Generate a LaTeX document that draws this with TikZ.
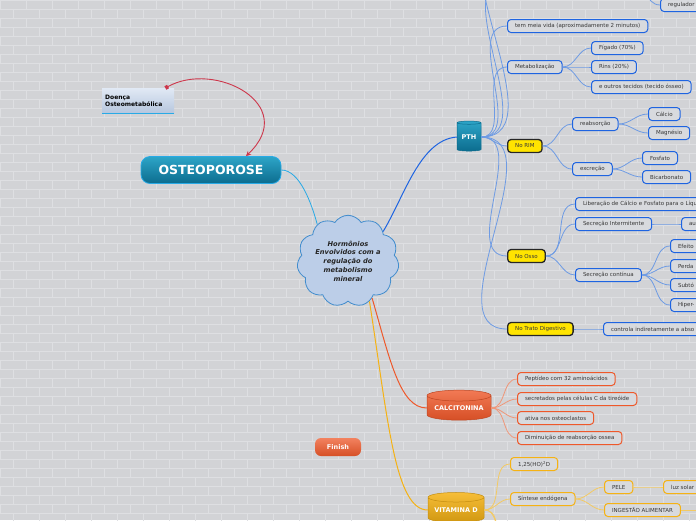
\documentclass[tikz,border=0pt]{standalone}
\usepackage{fontspec}
\setmainfont{DejaVu Sans}
\usepackage{tikz}
\usetikzlibrary{shapes.geometric,shapes.symbols,arrows.meta,positioning}
\usepackage{xcolor}
\definecolor{BgGray}{RGB}{210,211,214}
\definecolor{BrickLine}{RGB}{222,223,226}
\definecolor{BoxFill}{RGB}{216,218,222}
\definecolor{PTHBlue}{RGB}{30,100,225}
\definecolor{PTHLink}{RGB}{110,155,228}
\definecolor{CalcRed}{RGB}{238,88,42}
\definecolor{CalcLink}{RGB}{240,150,120}
\definecolor{VitGold}{RGB}{245,178,20}
\definecolor{VitLink}{RGB}{243,202,100}
\definecolor{NoteYellow}{RGB}{255,228,0}
\definecolor{TealTop}{RGB}{45,165,200}
\definecolor{TealBot}{RGB}{12,108,142}
\definecolor{CloudFill}{RGB}{188,206,232}
\definecolor{CloudLine}{RGB}{65,140,205}
\definecolor{ArrowRed}{RGB}{205,55,75}
\definecolor{SkyLine}{RGB}{40,170,230}
\definecolor{TextGray}{RGB}{55,55,55}

\tikzset{
  leaf/.style={draw=#1, line width=1pt, fill=BoxFill, rounded corners=3.5pt,
    anchor=west, font=\fontsize{5.5}{6.5}\selectfont, text=TextGray,
    minimum height=13pt, inner xsep=7.5pt, inner ysep=0pt},
  leaf/.default=PTHBlue,
  yellowbox/.style={leaf=black!85, fill=NoteYellow, line width=1.3pt},
  cutoff/.style={text width=#1, align=left},
  drum/.style={cylinder, shape border rotate=90, aspect=0.22, draw=#1,
    line width=0.5pt, inner sep=0pt, text=white,
    font=\bfseries\fontsize{6.5}{7}\selectfont},
  link/.style={draw=#1, line width=0.8pt},
}

\begin{document}
\begin{tikzpicture}[x=1pt,y=-1pt]
  \useasboundingbox (0,0) rectangle (696,520);
  \clip (0,0) rectangle (696,520);
  % brick wall
  \fill[BgGray] (0,0) rectangle (696,520);
  \foreach \r in {0,...,58}
    \draw[BrickLine, line width=0.6pt] (0,\r*9) -- (696,\r*9);
  \foreach \r [evaluate=\r as \off using {mod(\r,2)*13}] in {0,...,57}
    \foreach \c in {-1,...,27}
      \draw[BrickLine, line width=0.6pt] (\c*26+\off,\r*9) -- ++(0,9);

  % central idea
  \node[cloud, cloud puffs=11, cloud puff arc=115, aspect=1.15, draw=CloudLine,
        fill=CloudFill, line width=0.8pt, minimum width=102pt, minimum height=90pt,
        align=center, text=black!85, inner sep=0pt,
        font=\bfseries\itshape\fontsize{6.7}{8.7}\selectfont]
    (hub) at (348,261) {Hormônios\\Envolvidos com a\\regulação do\\metabolismo\\mineral};

  % left side
  \node[rounded corners=9pt, top color=TealTop, bottom color=TealBot, draw=SkyLine,
        line width=0.8pt, minimum width=140pt, minimum height=27pt, text=white,
        font=\bfseries\fontsize{12.5}{14}\selectfont]
    (osteo) at (211,170) {OSTEOPOROSE};
  \node[anchor=north west, top color=CloudFill!45, bottom color=CloudFill!90!gray,
        minimum width=72pt, minimum height=25pt, inner xsep=3pt, align=left,
        text width=66pt, font=\bfseries\fontsize{6}{7.5}\selectfont]
    (doenca) at (102,88) {Doença\\Osteometabólica};
  \draw[SkyLine, line width=1pt] (doenca.south west) -- (doenca.south east);
  \draw[ArrowRed, line width=0.9pt, {Square[length=3pt,width=4pt]}-{Stealth[length=5pt,width=5pt]}]
    ([xshift=-9pt]doenca.north east) .. controls (215,60) and (300,105)
    .. ([xshift=35pt]osteo.north);
  \node[rounded corners=6pt, top color=CalcRed!75, bottom color=CalcRed!90!black,
        minimum width=46pt, minimum height=18pt, text=white,
        font=\bfseries\fontsize{6.5}{7}\selectfont]
    (finish) at (338,447) {Finish};

  % main topics
  \node[drum=TealBot, top color=TealTop, bottom color=TealBot,
        minimum width=24pt, minimum height=30pt] (pth) at (469,137) {PTH};
  \node[drum=CalcRed!80!black, top color=CalcRed!80, bottom color=CalcRed!90!black,
        minimum width=64pt, minimum height=30pt] (calc) at (459,408) {CALCITONINA};
  \node[drum=VitGold!80!black, top color=VitGold!85, bottom color=VitGold!85!black,
        minimum width=56pt, minimum height=30pt] (vitd) at (456,510) {VITAMINA D};

  \draw[link=SkyLine] (osteo.east) .. controls (300,170) and (312,205) .. (hub.130);
  \draw[link=PTHBlue, line width=1pt] (hub.40) .. controls (405,195) and (420,140) .. (pth.west);
  \draw[link=CalcRed, line width=1pt] (hub.-57) .. controls (390,360) and (400,408) .. (calc.west);
  \draw[link=VitGold, line width=1pt] (hub.-62) .. controls (388,420) and (395,510) .. (vitd.west);

  % PTH branch
  \coordinate (pthup1) at (507,-20);
  \coordinate (pthup2) at (507,-70);
  \coordinate (regpar) at (630,-20);
  \node[leaf, cutoff=40pt] (regul) at (660,5) {regulador};
  \node[leaf] (meia) at (507,26) {tem meia vida (aproximadamente 2 minutos)};
  \node[leaf] (metab) at (507,67) {Metabolização};
  \node[leaf] (figado) at (591,48) {Fígado (70\%)};
  \node[leaf] (rins) at (591,67) {Rins (20\%)};
  \node[leaf] (outros) at (591,87) {e outros tecidos (tecido ósseo)};
  \node[yellowbox] (rim) at (507,146) {No RIM};
  \node[leaf] (reabs) at (572,124) {reabsorção};
  \node[leaf] (calcio) at (648,114) {Cálcio};
  \node[leaf] (magn) at (648,133) {Magnésio};
  \node[leaf] (excr) at (572,169) {excreção};
  \node[leaf] (fosf) at (642,158) {Fosfato};
  \node[leaf] (bicarb) at (642,177) {Bicarbonato};
  \node[yellowbox] (osso) at (507,256) {No Osso};
  \node[leaf, cutoff=150pt] (liber) at (575,204) {Liberação de Cálcio e Fosfato para o Líqu};
  \node[leaf] (interm) at (575,224) {Secreção Intermitente};
  \node[leaf, cutoff=30pt] (au) at (681,224) {au};
  \node[leaf] (contin) at (575,275) {Secreção contínua};
  \node[leaf, cutoff=40pt] (efeito) at (670,246) {Efeito};
  \node[leaf, cutoff=40pt] (perda) at (670,266) {Perda};
  \node[leaf, cutoff=40pt] (subto) at (670,285) {Subtó};
  \node[leaf, cutoff=40pt] (hiper) at (670,305) {Hiper-};
  \node[yellowbox] (trato) at (507,329) {No Trato Digestivo};
  \node[leaf, cutoff=120pt] (contr) at (603,329) {controla indiretamente a abso};

  \foreach \c in {meia,metab,rim,osso,trato}
    \draw[link=PTHLink] (pth.east) to[out=0,in=180] (\c.west);
  \foreach \c in {pthup1,pthup2}
    \draw[link=PTHLink] (pth.east) to[out=0,in=180] (\c);
  \draw[link=PTHLink] (regpar) to[out=0,in=180] (regul.west);
  \foreach \c in {figado,rins,outros}
    \draw[link=PTHLink] (metab.east) to[out=0,in=180] (\c.west);
  \foreach \p/\c in {rim/reabs,rim/excr,reabs/calcio,reabs/magn,excr/fosf,excr/bicarb,
                     osso/liber,osso/interm,osso/contin,interm/au,contin/efeito,
                     contin/perda,contin/subto,contin/hiper,trato/contr}
    \draw[link=PTHLink] (\p.east) to[out=0,in=180] (\c.west);

  % CALCITONINA branch
  \node[leaf=CalcRed] (pept) at (517,379) {Peptídeo com 32 aminoácidos};
  \node[leaf=CalcRed] (secr) at (517,399) {secretados pelas células C da tireóide};
  \node[leaf=CalcRed] (ativa) at (517,418) {ativa nos osteoclastos};
  \node[leaf=CalcRed] (dimin) at (517,438) {Diminuição de reabsorção ossea};
  \foreach \c in {pept,secr,ativa,dimin}
    \draw[link=CalcLink] (calc.east) to[out=0,in=180] (\c.west);

  % VITAMINA D branch
  \coordinate (vitdown1) at (510,545);
  \coordinate (vitdown2) at (510,570);
  \coordinate (ingout) at (720,510);
  \node[leaf=VitGold] (forma) at (510,464) {1,25(HO)\textsuperscript{2}D};
  \node[leaf=VitGold] (sintese) at (510,499) {Síntese endógena};
  \node[leaf=VitGold] (pele) at (604,487) {PELE};
  \node[leaf=VitGold, cutoff=40pt] (luz) at (663,487) {luz solar};
  \node[leaf=VitGold] (ingest) at (604,510) {INGESTÃO ALIMENTAR};
  \foreach \c in {forma,sintese}
    \draw[link=VitLink] (vitd.east) to[out=0,in=180] (\c.west);
  \foreach \c in {vitdown1,vitdown2}
    \draw[link=VitLink] (vitd.east) to[out=0,in=180] (\c);
  \foreach \p/\c in {sintese/pele,sintese/ingest,pele/luz}
    \draw[link=VitLink] (\p.east) to[out=0,in=180] (\c.west);
  \draw[link=VitLink] (ingest.east) -- (ingout);
\end{tikzpicture}
\end{document}
